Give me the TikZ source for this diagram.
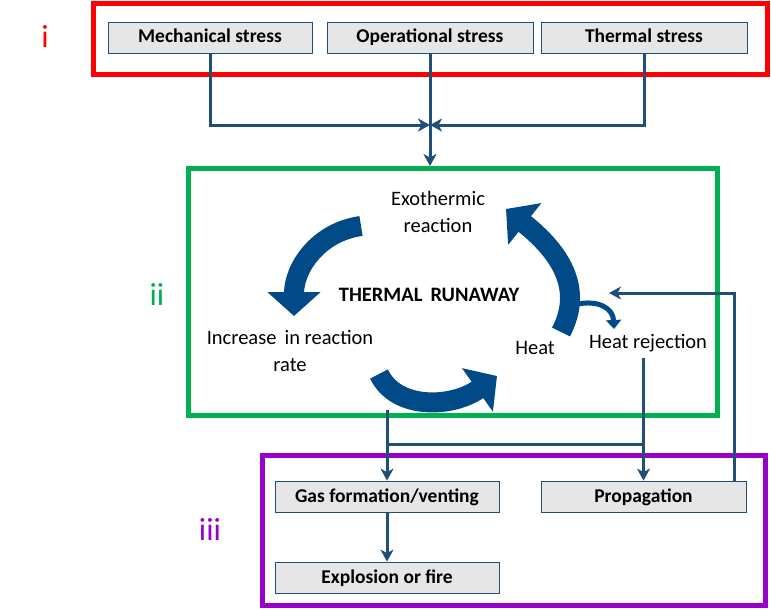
\documentclass[tikz,border=0pt]{standalone}
\usepackage{fontspec}
\setmainfont{Carlito}
\usetikzlibrary{arrows.meta}
\definecolor{linkblue}{RGB}{31,78,121}
\definecolor{flowblue}{RGB}{0,74,135}
\definecolor{boxgray}{RGB}{230,230,230}
\definecolor{frgreen}{RGB}{0,176,80}
\definecolor{frpurple}{RGB}{153,0,204}
\tikzset{
  cause/.style={draw=linkblue, fill=boxgray, line width=0.8pt, inner sep=0pt,
    minimum height=31pt, text height=13pt, text depth=2pt,
    font=\fontsize{19.5}{23}\selectfont\bfseries},
  frame/.style={draw=#1, line width=5pt, inner sep=0pt},
  link/.style={draw=linkblue, line width=3pt},
  tip/.style={-{Stealth[length=12pt,width=13pt,inset=3.5pt]}},
  loop/.style={draw=flowblue, line width=20pt,
    -{Triangle[length=24pt,width=52pt]}},
  txt/.style={align=center, font=\fontsize{20.5}{27}\selectfont},
  tag/.style={text=#1, font=\fontsize{32}{32}\selectfont}
}
\begin{document}
\begin{tikzpicture}[x=1pt,y=-1pt]
\useasboundingbox (0,0) rectangle (771,610);
% frames
\node[frame=red, minimum width=674pt, minimum height=71pt] (top) at (430,39.5) {};
\node[frame=frgreen, minimum width=529pt, minimum height=247pt] (loopbox) at (453,292) {};
\node[frame=frpurple, minimum width=503pt, minimum height=150pt] (bottom) at (514,530.5) {};
\node[tag=red] (i) at (45,36) {i};
\node[tag=frgreen] (ii) at (157,294) {ii};
\node[tag=frpurple] (iii) at (210,529) {iii};
% stresses
\node[cause, minimum width=204pt] (mech) at (210,37.5) {Mechanical stress};
\node[cause, minimum width=206pt] (oper) at (430,37.5) {Operational stress};
\node[cause, minimum width=206pt] (therm) at (644,37.5) {Thermal stress};
\coordinate (join) at (430,125);
\draw[link, tip] (mech.south) |- (join);
\draw[link, tip] (therm.south) |- (join);
\draw[link, tip] (oper.south) -- (oper.south |- loopbox.north);
% runaway loop
\node[txt] (exo) at (438,212) {Exothermic\\reaction};
\node[txt] (rate) at (290,351) {Increase\, in reaction\\rate};
\node[font=\fontsize{20.5}{24}\selectfont\bfseries] (tr) at (429,295) {THERMAL\, RUNAWAY};
\node[txt] (heat) at (535,348) {Heat};
\node[txt] (rej) at (648,343) {Heat rejection};
\draw[loop] (361,226) .. controls (318,232) and (294,268) .. (294,316);
\draw[loop] (379,374) .. controls (396,410) and (452,408) .. (497,376);
\draw[loop] (561,332) .. controls (582,292) and (565,256) .. (506,209);
\draw[draw=flowblue, line width=5pt, -{Triangle[length=9pt,width=15pt]}]
  (578,304) .. controls (598,300) and (613,308) .. (614,329);
% outcomes
\node[cause, minimum width=224pt] (gas) at (387,496.5) {Gas formation/venting};
\node[cause, minimum width=205pt] (prop) at (643.5,496.5) {Propagation};
\node[cause, minimum width=224pt] (fire) at (387,577.5) {Explosion or fire};
\coordinate (split) at (387,410);
\coordinate (rejend) at (643.5,358);
\coordinate (back) at (609,293);
\draw[link, tip] (split) -- (gas.north);
\draw[link, tip] (rejend) -- (prop.north);
\draw[link] (split |- 0,444) -- (rejend |- 0,444);
\draw[link, tip] (gas.south) -- (fire.north);
\draw[link, tip] ([xshift=91pt]prop.north) |- (back);
\end{tikzpicture}
\end{document}
